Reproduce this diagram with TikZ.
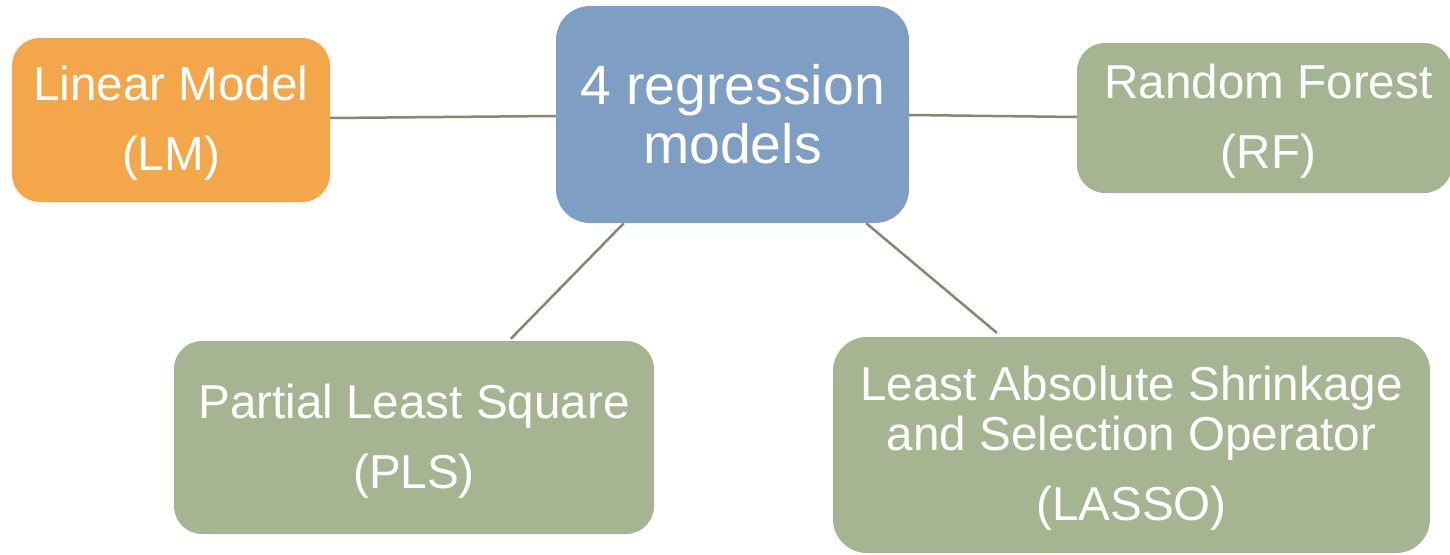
\documentclass[tikz,border=0pt]{standalone}
\usepackage{fontspec}
\setmainfont{Liberation Sans}
\definecolor{cOrange}{HTML}{F3A64A}
\definecolor{cBlue}{HTML}{7F9EC3}
\definecolor{cGreen}{HTML}{A5B592}
\definecolor{cLine}{HTML}{7F8B6B}
\newcommand{\topstrut}{\rule{0pt}{0.86em}}
\begin{document}
\begin{tikzpicture}[x=1pt,y=-1pt,
  box/.style={rectangle, rounded corners=28pt, inner sep=0pt, align=center,
    text=white, font={\fontsize{47.6}{50}\selectfont}},
  link/.style={draw=cLine, line width=2.5pt}]
\useasboundingbox (0,0) rectangle (1450,554);
\node[box, fill=cBlue, minimum width=353pt, minimum height=217pt, rounded corners=34pt,
  font={\fontsize{55.4}{59}\selectfont}] (c) at (732.5,114.5) {4 regression\\models};
\node[box, fill=cOrange, minimum width=318pt, minimum height=164pt] (lm) at (171,120) {\topstrut Linear Model\\[20pt](LM)};
\node[box, fill=cGreen, minimum width=375pt, minimum height=150pt] (rf) at (1264.5,118) {\topstrut\hspace*{8pt}Random Forest\\[20pt]\hspace*{8pt}(RF)};
\node[box, fill=cGreen, minimum width=480pt, minimum height=193pt] (pls) at (414,437.5) {\topstrut Partial Least Square\\[20pt](PLS)};
\node[box, fill=cGreen, minimum width=597pt, minimum height=216pt, rounded corners=34pt] (lasso) at (1131.5,445) {\topstrut Least Absolute Shrinkage\\and Selection Operator\\[20pt](LASSO)};
\draw[link] ([yshift=2pt]lm.east) -- ([yshift=-1.5pt]c.west);
\draw[link] ([yshift=-0.5pt]c.east) -- ([yshift=1pt]rf.west);
\draw[link] ([xshift=68pt]c.south west) -- ([xshift=337pt,yshift=2pt]pls.north west);
\draw[link] ([xshift=-43pt]c.south east) -- ([xshift=164pt,yshift=4pt]lasso.north west);
\end{tikzpicture}
\end{document}
